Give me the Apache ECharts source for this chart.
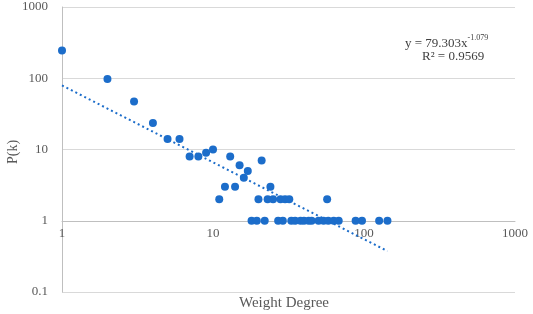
<!DOCTYPE html>
<html><head><meta charset="utf-8">
<script src="https://cdn.jsdelivr.net/npm/echarts@6/dist/echarts.min.js"></script>
<style>html,body{margin:0;padding:0;background:#fff}#c{width:533px;height:314px}</style>
</head><body><div id="c"></div>
<script>
// Scatter data: weight degree (k) and P(k)
const xValues = [1, 2, 3, 4, 5, 6, 7, 8, 9, 10,
  12, 14, 24, 13, 15, 16, 17, 21,
  11, 20, 23, 25, 28, 30, 32, 57,
  18, 19.5, 22, 27, 29, 33, 35, 38, 40, 43, 45, 50, 54, 58, 63, 68, 88, 97, 126, 143];
const yValues = [245, 98, 47, 23.5, 14, 14, 8, 8, 9, 10,
  3, 3, 3, 8, 6, 4, 5, 7,
  2, 2, 2, 2, 2, 2, 2, 2,
  1, 1, 1, 1, 1, 1, 1, 1, 1, 1, 1, 1, 1, 1, 1, 1, 1, 1, 1, 1];
// Power trendline y = a * x^b
const trendCoef = [79.303, -1.079];
const trendRange = [1, 143];
const xTicks = ['1', '10', '100', '1000'];
const yTicks = ['0.1', '1', '10', '100', '1000'];

const points = xValues.map((x, i) => [x, yValues[i]]);
const trend = trendRange.map(x => [x, trendCoef[0] * Math.pow(x, trendCoef[1])]);
const blue = '#1c6dca';
const serif = '"Liberation Serif", "Times New Roman", serif';

const chart = echarts.init(document.getElementById('c'));
chart.setOption({
  animation: false,
  grid: { left: 62, right: 18, top: 7, bottom: 22, containLabel: false, outerBoundsMode: 'none' },
  xAxis: {
    type: 'log', logBase: 10, min: 1, max: 1000,
    offset: -71,
    axisLine: { show: true, lineStyle: { color: '#bfbfbf', width: 1 } },
    axisTick: { show: false },
    splitLine: { show: false },
    axisLabel: { color: '#595959', fontFamily: serif, fontSize: 13, margin: 6,
      formatter: v => { const s = String(Math.round(v)); return xTicks.includes(s) ? s : ''; } }
  },
  yAxis: {
    type: 'log', logBase: 10, min: 0.1, max: 1000,
    axisLine: { show: true, lineStyle: { color: '#bfbfbf', width: 1 } },
    axisTick: { show: false },
    splitLine: { show: true, lineStyle: { color: '#d9d9d9', width: 1 } },
    axisLabel: { color: '#595959', fontFamily: serif, fontSize: 13, margin: 14,
      formatter: v => { const s = String(+v.toPrecision(3)); return yTicks.includes(s) ? s : ''; } }
  },
  graphic: [
    { type: 'text', x: 13, y: 152, rotation: Math.PI / 2,
      style: { text: 'P(k)', font: '14px ' + serif, fill: '#595959', align: 'center', verticalAlign: 'middle' } },
    { type: 'text', x: 284, y: 296,
      style: { text: 'Weight Degree', font: '15px ' + serif, fill: '#595959', align: 'center' } },
    { type: 'text', x: 405, y: 34,
      style: { text: '{m|y = 79.303x}{s|-1.079}', rich: {
        m: { font: '13px ' + serif, fill: '#404040', verticalAlign: 'bottom' },
        s: { font: '8px ' + serif, fill: '#404040', verticalAlign: 'top', padding: [0, 0, 8, 0] } } } },
    { type: 'text', x: 422, y: 50,
      style: { text: 'R² = 0.9569', font: '13px ' + serif, fill: '#404040' } }
  ],
  series: [
    { type: 'line', data: trend, symbol: 'none', z: 1,
      lineStyle: { color: blue, width: 2, type: [2, 3] } },
    { type: 'scatter', data: points, symbolSize: 8, z: 2,
      itemStyle: { color: blue, opacity: 1 } }
  ]
});
</script></body></html>
